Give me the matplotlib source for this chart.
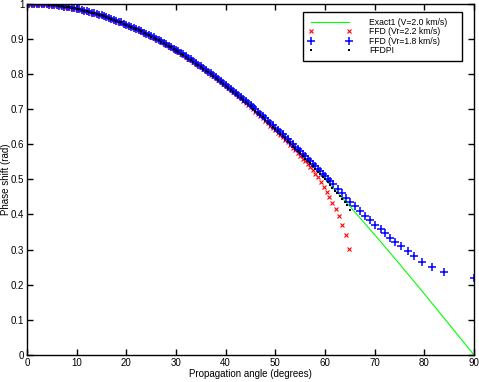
import matplotlib
matplotlib.use("Agg")
import matplotlib.pyplot as plt

plt.rcParams["font.family"] = ["Liberation Sans", "DejaVu Sans"]

# exact solution (V=2.0 km/s)
exact_deg = [0, 5, 10, 15, 20, 25, 30, 35, 40, 45, 50, 55, 60, 65, 70, 75, 80, 85, 90]
exact_val = [1.000, 0.996, 0.985, 0.966, 0.940, 0.906, 0.866, 0.819, 0.766, 0.707,
             0.643, 0.574, 0.500, 0.423, 0.342, 0.259, 0.174, 0.087, 0.000]

# dense angle samples shared by the numerical schemes (0 .. 58 deg)
dense_deg = [0, 0.5, 1, 1.5, 2, 2.5, 3, 3.5, 4, 4.5, 5, 5.5, 6, 6.5, 7, 7.5, 8, 8.5, 9, 9.5,
             10, 10.5, 11, 11.5, 12, 12.5, 13, 13.5, 14, 14.5, 15, 15.5, 16, 16.5, 17, 17.5,
             18, 18.5, 19, 19.5, 20, 20.5, 21, 21.5, 22, 22.5, 23, 23.5, 24, 24.5, 25, 25.5,
             26, 26.5, 27, 27.5, 28, 28.5, 29, 29.5, 30, 30.5, 31, 31.5, 32, 32.5, 33, 33.5,
             34, 34.5, 35, 35.5, 36, 36.5, 37, 37.5, 38, 38.5, 39, 39.5, 40, 40.5, 41, 41.5,
             42, 42.5, 43, 43.5, 44, 44.5, 45, 45.5, 46, 46.5, 47, 47.5, 48, 48.5, 49, 49.5,
             50, 50.5, 51, 51.5, 52, 52.5, 53, 53.5, 54, 54.5, 55, 55.5, 56, 56.5, 57, 57.5, 58]

# FFDPI
ffdpi_deg = dense_deg + [58.5, 59, 59.5, 60, 60.5, 61, 61.5, 62, 62.5, 63, 63.5, 64, 64.5, 65]
ffdpi_val = [1.000, 1.000, 1.000, 1.000, 0.999, 0.999, 0.999, 0.998, 0.998, 0.997,
             0.996, 0.995, 0.995, 0.994, 0.993, 0.991, 0.990, 0.989, 0.988, 0.986,
             0.985, 0.983, 0.982, 0.980, 0.978, 0.976, 0.974, 0.972, 0.970, 0.968,
             0.966, 0.964, 0.961, 0.959, 0.956, 0.954, 0.951, 0.948, 0.946, 0.943,
             0.940, 0.937, 0.934, 0.930, 0.927, 0.924, 0.921, 0.917, 0.914, 0.910,
             0.906, 0.903, 0.899, 0.895, 0.891, 0.887, 0.883, 0.879, 0.875, 0.870,
             0.866, 0.862, 0.857, 0.853, 0.848, 0.843, 0.839, 0.834, 0.829, 0.824,
             0.819, 0.814, 0.809, 0.804, 0.799, 0.793, 0.788, 0.783, 0.777, 0.772,
             0.766, 0.760, 0.755, 0.749, 0.743, 0.737, 0.731, 0.725, 0.719, 0.713,
             0.707, 0.701, 0.695, 0.688, 0.682, 0.676, 0.669, 0.663, 0.656, 0.649,
             0.643, 0.636, 0.629, 0.623, 0.616, 0.609, 0.602, 0.595, 0.588, 0.581,
             0.574, 0.566, 0.559, 0.552, 0.545, 0.537, 0.530,
             0.522, 0.515, 0.507, 0.500, 0.492, 0.484, 0.476, 0.468, 0.460, 0.452,
             0.443, 0.435, 0.426, 0.412]

# FFD (Vr=2.2 km/s)
ffd22_deg = dense_deg + [58.6, 59.1, 59.7, 60.3, 60.9, 61.5, 62.2, 62.8, 63.5, 64.25, 64.9]
ffd22_val = [1.000, 1.000, 1.000, 1.000, 0.999, 0.999, 0.999, 0.998, 0.998, 0.997,
             0.996, 0.995, 0.995, 0.994, 0.993, 0.991, 0.990, 0.989, 0.988, 0.986,
             0.985, 0.983, 0.982, 0.980, 0.978, 0.976, 0.974, 0.972, 0.970, 0.968,
             0.966, 0.964, 0.961, 0.959, 0.956, 0.954, 0.951, 0.948, 0.946, 0.943,
             0.940, 0.937, 0.934, 0.930, 0.927, 0.924, 0.921, 0.917, 0.914, 0.910,
             0.906, 0.903, 0.899, 0.895, 0.891, 0.887, 0.883, 0.879, 0.875, 0.870,
             0.866, 0.862, 0.857, 0.853, 0.848, 0.843, 0.839, 0.834, 0.829, 0.824,
             0.819, 0.814, 0.809, 0.804, 0.798, 0.793, 0.787, 0.782, 0.776, 0.771,
             0.765, 0.759, 0.754, 0.748, 0.742, 0.736, 0.730, 0.724, 0.717, 0.711,
             0.705, 0.699, 0.692, 0.686, 0.679, 0.673, 0.666, 0.659, 0.652, 0.646,
             0.639, 0.633, 0.626, 0.619, 0.612, 0.605, 0.597, 0.590, 0.582, 0.575,
             0.567, 0.559, 0.551, 0.543, 0.534, 0.525, 0.515,
             0.505, 0.491, 0.479, 0.465, 0.450, 0.433, 0.415, 0.396, 0.371, 0.342, 0.302]

# FFD (Vr=1.8 km/s)
ffd18_deg = dense_deg + [58.5, 59, 59.5, 60, 60.5, 61.0, 61.6, 62.6, 63.4, 64.3, 65.1,
                         66.1, 67.1, 68.0, 69.1, 70.0, 71.2, 72.0, 73.1, 74.1, 75.3,
                         76.7, 78.0, 79.6, 81.5, 84.0, 90.0]
ffd18_val = [1.000, 1.000, 1.000, 1.000, 0.999, 0.999, 0.999, 0.998, 0.998, 0.997,
             0.996, 0.995, 0.995, 0.994, 0.993, 0.991, 0.990, 0.989, 0.988, 0.986,
             0.985, 0.983, 0.982, 0.980, 0.978, 0.976, 0.974, 0.972, 0.970, 0.968,
             0.966, 0.964, 0.961, 0.959, 0.956, 0.954, 0.951, 0.948, 0.946, 0.943,
             0.940, 0.937, 0.934, 0.930, 0.927, 0.924, 0.921, 0.917, 0.914, 0.910,
             0.907, 0.904, 0.900, 0.896, 0.892, 0.888, 0.884, 0.880, 0.876, 0.872,
             0.868, 0.864, 0.859, 0.855, 0.850, 0.846, 0.841, 0.836, 0.831, 0.826,
             0.821, 0.816, 0.811, 0.806, 0.801, 0.796, 0.790, 0.785, 0.779, 0.774,
             0.769, 0.763, 0.758, 0.752, 0.746, 0.740, 0.735, 0.729, 0.723, 0.717,
             0.711, 0.705, 0.699, 0.692, 0.686, 0.680, 0.673, 0.667, 0.660, 0.654,
             0.647, 0.641, 0.634, 0.628, 0.621, 0.614, 0.607, 0.600, 0.593, 0.586,
             0.579, 0.572, 0.565, 0.558, 0.551, 0.544, 0.537,
             0.530, 0.523, 0.516, 0.509, 0.502, 0.495, 0.486, 0.471, 0.460, 0.448,
             0.435, 0.424, 0.410, 0.396, 0.383, 0.370, 0.358, 0.346, 0.334, 0.322,
             0.309, 0.295, 0.282, 0.265, 0.250, 0.235, 0.218]

fig = plt.figure(figsize=(4.79, 3.82), dpi=100)
ax = fig.add_axes([0.0564, 0.0707, 0.9332, 0.9201])

ax.plot(exact_deg, exact_val, color="#00ff00", lw=0.8, label="Exact1 (V=2.0 km/s)")
ax.plot(ffd22_deg, ffd22_val, ls="none", marker="x", ms=3.2, mew=0.8, color="red",
        label="FFD (Vr=2.2 km/s)")
ax.plot(ffd18_deg, ffd18_val, ls="none", marker="+", ms=6, mew=1.1, color="blue",
        label="FFD (Vr=1.8 km/s)")
ax.plot(ffdpi_deg, ffdpi_val, ls="none", marker="s", ms=2.0, mew=0, color="black",
        label="FFDPI")

ax.set_xlim(0, 90)
ax.set_ylim(0, 1)
ax.set_xticks(range(0, 91, 10))
ax.set_yticks([0, 0.1, 0.2, 0.3, 0.4, 0.5, 0.6, 0.7, 0.8, 0.9, 1])
ax.set_yticklabels(["0", "0.1", "0.2", "0.3", "0.4", "0.5", "0.6", "0.7", "0.8", "0.9", "1"])
ax.tick_params(direction="in", top=True, right=True, labelsize=7, length=4, width=1, pad=2)
for s in ax.spines.values():
    s.set_linewidth(1)
ax.set_xlabel("Propagation angle (degrees)", fontsize=7, labelpad=1)
ax.set_ylabel("Phase shift (rad)", fontsize=7)
ax.yaxis.set_label_coords(-0.036, 0.5)

# legend box spans a fixed width like the MATLAB original
leg = ax.legend(loc="upper left", bbox_to_anchor=(0.617, 0.5, 0.356, 0.476),
                mode="expand", borderaxespad=0, fontsize=6.2, numpoints=2,
                handlelength=5.0, fancybox=False, edgecolor="black", framealpha=1,
                borderpad=0.7, labelspacing=0.05, handletextpad=2.0)
leg.get_frame().set_linewidth(1)

fig.savefig("out.png", dpi=100)
